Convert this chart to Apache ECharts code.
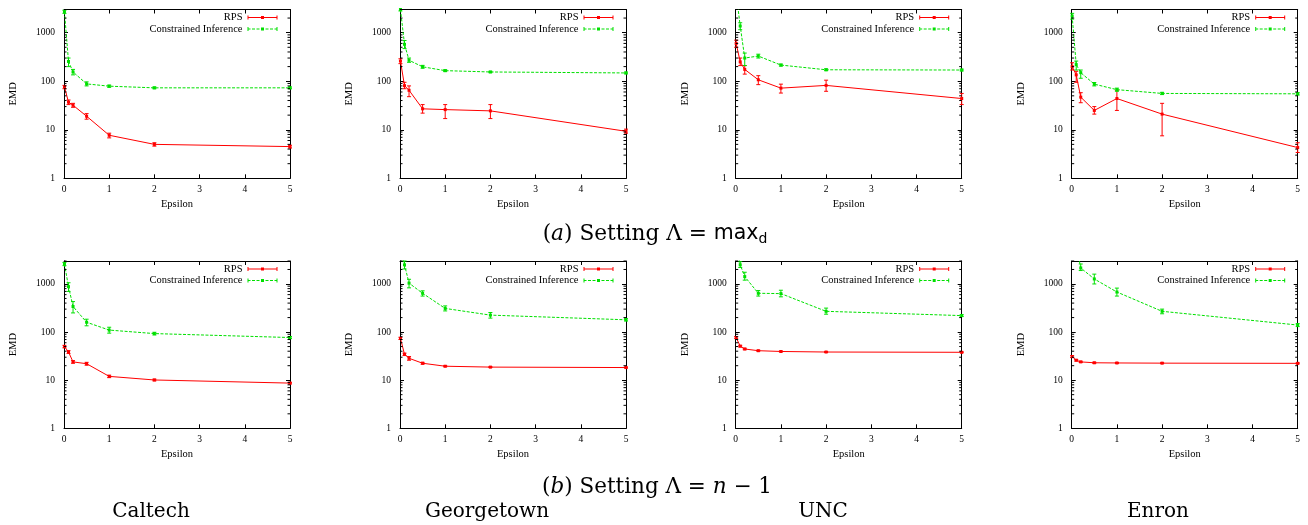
<!DOCTYPE html>
<html>
<head>
<meta charset="utf-8">
<script src="https://cdn.jsdelivr.net/npm/echarts@6/dist/echarts.min.js"></script>
<style>
  html, body { margin: 0; padding: 0; background: #fff; }
  #chart { width: 1308px; height: 525px; }
</style>
</head>
<body>
<div id="chart"></div>
<script>
// epsilon values on the x axis (first point sits right at 0)
var eps = [0.01, 0.1, 0.2, 0.5, 1, 2, 5];
var datasets = ['Caltech', 'Georgetown', 'UNC', 'Enron'];
var yTicks = [1, 10, 100, 1000];
var yMinor = [2, 3, 4, 5, 6, 7, 8, 9, 20, 30, 40, 50, 60, 70, 80, 90,
              200, 300, 400, 500, 600, 700, 800, 900, 2000, 3000];

// (a) Lambda = max_d
var caltechMaxRps = [76, 37, 32, 19, 7.7, 5.0, 4.5];
var caltechMaxRpsBar = [[70, 82], [33, 41], [29, 35], [16.5, 21.5], [6.8, 8.5], [4.6, 5.4], [4.2, 4.8]];
var caltechMaxCi = [2700, 255, 155, 88, 79, 73, 73];
var caltechMaxCiBar = [[2500, 2900], [200, 300], [135, 175], [80, 97], [75, 83], [70, 76], [70, 76]];

var georgetownMaxRps = [260, 81, 65, 27, 26, 24.5, 9.3];
var georgetownMaxRpsBar = [[230, 290], [70, 95], [48, 80], [22, 33], [17, 33], [17, 33], [8.5, 10.3]];
var georgetownMaxCi = [3000, 575, 270, 198, 165, 155, 148];
var georgetownMaxCiBar = [[2800, 3200], [470, 690], [245, 300], [185, 212], [158, 172], [150, 160], [142, 154]];

var uncMaxRps = [600, 250, 175, 107, 72, 82, 44];
var uncMaxRpsBar = [[500, 700], [210, 300], [140, 210], [85, 130], [57, 87], [62, 105], [33, 56]];
var uncMaxCi = [6500, 1370, 300, 330, 215, 172, 170];
var uncMaxCiBar = [[6000, 7000], [1150, 1600], [210, 380], [300, 360], [205, 225], [165, 180], [163, 177]];

var enronMaxRps = [200, 135, 47, 25, 44, 21, 4.3];
var enronMaxRpsBar = [[170, 240], [95, 160], [36, 58], [21, 30], [25, 65], [7.5, 35], [3.4, 5.4]];
var enronMaxCi = [2200, 220, 150, 87, 67, 56, 55];
var enronMaxCiBar = [[1900, 2500], [170, 260], [115, 170], [80, 94], [62, 72], [53, 59], [52, 58]];

// (b) Lambda = n - 1
var caltechNRps = [50, 38.5, 24, 22, 12, 10.1, 8.7];
var caltechNRpsBar = [[47, 53], [36, 41], [22.5, 25.5], [20.5, 23.5], [11.3, 12.7], [9.7, 10.5], [8.4, 9]];
var caltechNCi = [2600, 880, 340, 160, 110, 93, 77];
var caltechNCiBar = [[2400, 2800], [700, 1060], [250, 430], [135, 185], [95, 126], [87, 99], [73, 81]];

var georgetownNRps = [74, 34.5, 28.5, 22.5, 19.5, 18.7, 18.3];
var georgetownNRpsBar = [[70, 78], [32.5, 36.5], [26, 31], [21.5, 23.5], [19, 20], [18.3, 19.1], [17.9, 18.7]];
var georgetownNCi = [6000, 2500, 1040, 640, 310, 225, 180];
var georgetownNCiBar = [[5500, 6500], [2050, 3000], [830, 1250], [560, 720], [275, 350], [195, 255], [170, 190]];

var uncNRps = [77, 51, 44.5, 41, 39.5, 38.5, 38];
var uncNRpsBar = [[73, 81], [49, 53], [43, 46], [40, 42], [38.7, 40.3], [37.7, 39.3], [37.2, 38.8]];
var uncNCi = [6500, 2500, 1420, 640, 630, 270, 220];
var uncNCiBar = [[6000, 7000], [2200, 2900], [1200, 1750], [560, 730], [540, 740], [235, 315], [210, 230]];

var enronNRps = [31, 26, 24, 23, 22.8, 22.6, 22.4];
var enronNRpsBar = [[29.5, 32.5], [25, 27], [23.3, 24.7], [22.4, 23.6], [22.3, 23.3], [22.1, 23.1], [21.9, 22.9]];
var enronNCi = [20000, 6500, 2150, 1270, 680, 270, 140];
var enronNCiBar = [[19000, 21000], [6000, 7000], [1900, 2600], [1000, 1600], [560, 820], [240, 300], [130, 150]];

var panels = [
  [caltechMaxRps, caltechMaxRpsBar, caltechMaxCi, caltechMaxCiBar],
  [georgetownMaxRps, georgetownMaxRpsBar, georgetownMaxCi, georgetownMaxCiBar],
  [uncMaxRps, uncMaxRpsBar, uncMaxCi, uncMaxCiBar],
  [enronMaxRps, enronMaxRpsBar, enronMaxCi, enronMaxCiBar],
  [caltechNRps, caltechNRpsBar, caltechNCi, caltechNCiBar],
  [georgetownNRps, georgetownNRpsBar, georgetownNCi, georgetownNCiBar],
  [uncNRps, uncNRpsBar, uncNCi, uncNCiBar],
  [enronNRps, enronNRpsBar, enronNCi, enronNCiBar]
];

var RED = '#ff0000';
var GREEN = '#00e000';
var SERIF = '"Liberation Serif", "Times New Roman", serif';
var CAP = '"DejaVu Serif", serif';

var panelLeft = [64, 400, 735.7, 1071.7];
var panelWidth = 226;
var rowTop = [9.5, 261];
var rowHeight = [168.8, 167.3];

// gnuplot-like key samples: line with a point in the middle and end ticks
var iconEnds = 'M0,0H1V4H0Z M29,0H30V4H29Z M13.5,0.5H16.5V3.5H13.5Z';
var rpsIcon = 'path://M0,1.5H30V2.5H0Z ' + iconEnds;
var ciIcon = 'path://' + iconEnds;
for (var s = 0; s < 30; s += 4.5) {
  ciIcon += ' M' + s + ',1.5H' + Math.min(s + 3, 30) + 'V2.5H' + s + 'Z';
}

var chart = echarts.init(document.getElementById('chart'), null, {renderer: 'canvas'});

// error bars: vertical segment with small caps, clipped to the plot box
function errRender(params, api) {
  var x = api.value(0);
  var p1 = api.coord([x, api.value(1)]);
  var p2 = api.coord([x, api.value(2)]);
  var cs = params.coordSys;
  var yT = cs.y, yB = cs.y + cs.height;
  var c = api.visual('color');
  var a = Math.max(p2[1], yT), b = Math.min(p1[1], yB);
  if (a > yB || b < yT) return null;
  var kids = [{type: 'line', shape: {x1: p1[0], y1: a, x2: p1[0], y2: b},
               style: {stroke: c, lineWidth: 1}}];
  if (p2[1] >= yT) kids.push({type: 'line', shape: {x1: p1[0] - 2, y1: p2[1], x2: p1[0] + 2, y2: p2[1]},
                              style: {stroke: c, lineWidth: 1}});
  if (p1[1] <= yB) kids.push({type: 'line', shape: {x1: p1[0] - 2, y1: p1[1], x2: p1[0] + 2, y2: p1[1]},
                              style: {stroke: c, lineWidth: 1}});
  return {type: 'group', children: kids};
}

// log minor ticks on left and right borders (inside)
function minorRender(params, api) {
  var p = api.coord([0, api.value(0)]);
  var cs = params.coordSys;
  var xl = cs.x, xr = cs.x + cs.width;
  return {type: 'group', children: [
    {type: 'line', shape: {x1: xl, y1: p[1], x2: xl + 2.5, y2: p[1]}, style: {stroke: '#000', lineWidth: 1}},
    {type: 'line', shape: {x1: xr, y1: p[1], x2: xr - 2.5, y2: p[1]}, style: {stroke: '#000', lineWidth: 1}}
  ]};
}

var grids = [], xAxes = [], yAxes = [], series = [], legends = [];

panels.forEach(function (pd, k) {
  var row = k < 4 ? 0 : 1, col = k % 4;
  var left = panelLeft[col];
  grids.push({left: left, top: rowTop[row], width: panelWidth, height: rowHeight[row]});

  var axisLine = {show: true, onZero: false, lineStyle: {color: '#000', width: 1}};
  xAxes.push({
    type: 'value', gridIndex: k, min: 0, max: 5, interval: 1, position: 'bottom',
    name: 'Epsilon', nameLocation: 'middle', nameGap: 20,
    nameTextStyle: {fontFamily: SERIF, fontSize: 10.5, color: '#000'},
    axisLine: axisLine,
    axisTick: {inside: true, length: 4, lineStyle: {color: '#000'}},
    axisLabel: {fontFamily: SERIF, fontSize: 9.5, color: '#000', margin: 6},
    splitLine: {show: false}
  });
  xAxes.push({
    type: 'value', gridIndex: k, min: 0, max: 5, interval: 1, position: 'top',
    axisLine: axisLine,
    axisTick: {inside: true, length: 4, lineStyle: {color: '#000'}},
    axisLabel: {show: false}, splitLine: {show: false}
  });
  yAxes.push({
    type: 'log', logBase: 10, gridIndex: k, min: 1, max: 3000, position: 'left',
    name: 'EMD', nameLocation: 'middle', nameGap: 45, nameRotate: 90,
    nameTextStyle: {fontFamily: SERIF, fontSize: 10.5, color: '#000'},
    axisLine: axisLine,
    axisTick: {inside: true, length: 4, lineStyle: {color: '#000'}},
    axisLabel: {
      fontFamily: SERIF, fontSize: 9.5, color: '#000', margin: 9,
      formatter: function (v) {
        var r = Math.round(v);
        return yTicks.indexOf(r) >= 0 ? String(r) : '';
      }
    },
    splitLine: {show: false}
  });
  yAxes.push({
    type: 'log', logBase: 10, gridIndex: k, min: 1, max: 3000, position: 'right',
    axisLine: axisLine,
    axisTick: {inside: true, length: 4, lineStyle: {color: '#000'}},
    axisLabel: {show: false}, splitLine: {show: false}
  });

  var xi = 2 * k, yi = 2 * k;
  function pts(vals) { return eps.map(function (e, i) { return [e, vals[i]]; }); }
  function bars(b) { return eps.map(function (e, i) { return [e, b[i][0], b[i][1]]; }); }

  series.push({
    name: 'RPS', type: 'line', xAxisIndex: xi, yAxisIndex: yi, data: pts(pd[0]),
    symbol: 'rect', symbolSize: 3, showAllSymbol: true, clip: true,
    itemStyle: {color: RED}, lineStyle: {color: RED, width: 1}, z: 3, animation: false
  });
  series.push({
    name: 'Constrained Inference', type: 'line', xAxisIndex: xi, yAxisIndex: yi, data: pts(pd[2]),
    symbol: 'rect', symbolSize: 3, showAllSymbol: true, clip: true,
    itemStyle: {color: GREEN}, lineStyle: {color: GREEN, width: 1, type: [3, 1.5]}, z: 3, animation: false
  });
  series.push({
    name: 'rpsErr' + k, type: 'custom', xAxisIndex: xi, yAxisIndex: yi, data: bars(pd[1]),
    renderItem: errRender, itemStyle: {color: RED}, encode: {x: 0, y: [1, 2]}, animation: false, z: 3
  });
  series.push({
    name: 'ciErr' + k, type: 'custom', xAxisIndex: xi, yAxisIndex: yi, data: bars(pd[3]),
    renderItem: errRender, itemStyle: {color: GREEN}, encode: {x: 0, y: [1, 2]}, animation: false, z: 3
  });
  series.push({
    name: 'minor' + k, type: 'custom', xAxisIndex: xi, yAxisIndex: yi,
    data: yMinor.map(function (v) { return [v]; }),
    renderItem: minorRender, encode: {y: 0}, animation: false, silent: true, z: 4
  });

  legends.push({
    data: [{name: 'RPS', icon: rpsIcon}, {name: 'Constrained Inference', icon: ciIcon}],
    orient: 'vertical', align: 'right',
    right: 1308 - (left + panelWidth - 12.5), top: rowTop[row] + 2.5,
    padding: 0, itemGap: 0.5, itemWidth: 30, itemHeight: 4, selectedMode: false,
    textStyle: {fontFamily: SERIF, fontSize: 10.5, color: '#000', lineHeight: 10.5}
  });
});

// captions under each row and dataset names
var graphics = [
  {
    type: 'text', x: 655, y: 234,
    style: {
      text: '({it|a}) Setting Λ = {sf|max}{sub|d}',
      fontFamily: CAP, fontSize: 21.7, fill: '#000', align: 'center', verticalAlign: 'middle',
      rich: {
        it: {fontFamily: CAP, fontStyle: 'italic', fontSize: 21.7},
        sf: {fontFamily: '"DejaVu Sans", sans-serif', fontSize: 20.5},
        sub: {fontFamily: '"DejaVu Sans", sans-serif', fontSize: 14, padding: [10, 0, 0, 0]}
      }
    }
  },
  {
    type: 'text', x: 657, y: 487,
    style: {
      text: '({it|b}) Setting Λ = {it|n} − 1',
      fontFamily: CAP, fontSize: 21.5, fill: '#000', align: 'center', verticalAlign: 'middle',
      rich: {it: {fontFamily: CAP, fontStyle: 'italic', fontSize: 21.5}}
    }
  }
];
var nameX = [151, 487, 823, 1158];
datasets.forEach(function (d, i) {
  graphics.push({
    type: 'text', x: nameX[i], y: 512,
    style: {text: d, fontFamily: CAP, fontSize: 20, fill: '#000', align: 'center', verticalAlign: 'middle'}
  });
});

chart.setOption({
  animation: false,
  backgroundColor: '#fff',
  grid: grids,
  xAxis: xAxes,
  yAxis: yAxes,
  legend: legends,
  series: series,
  graphic: graphics
});
</script>
</body>
</html>
